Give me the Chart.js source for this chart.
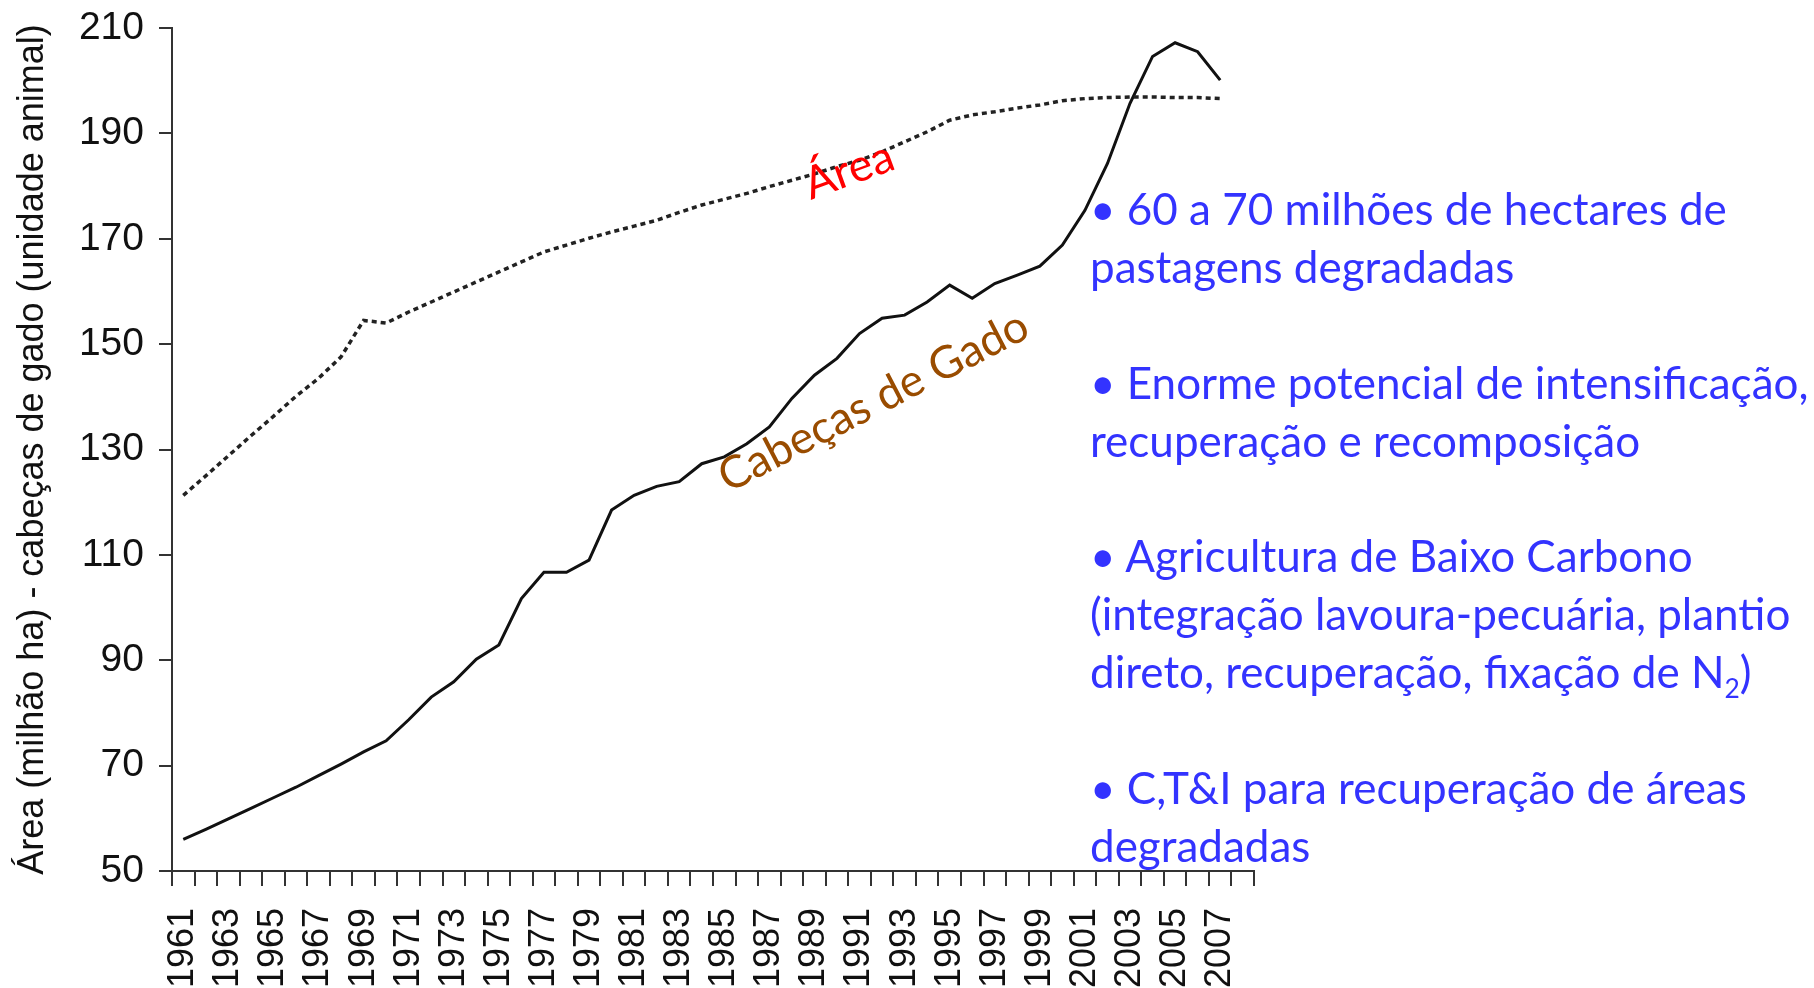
<!DOCTYPE html>
<html lang="pt">
<head>
<meta charset="UTF-8">
<title>Área e cabeças de gado</title>
<script src="https://cdn.jsdelivr.net/npm/chart.js@4/dist/chart.umd.min.js"></script>
<style>
  html, body { margin: 0; padding: 0; background: #fff; }
  #wrap { position: relative; width: 1814px; height: 988px; }
  #notes {
    position: absolute; left: 1090px; top: 180px;
    font-family: Lato, sans-serif; font-size: 44px; line-height: 57.9px;
    color: rgb(51,51,255); white-space: nowrap;
  }
  #notes p { margin: 0 0 57.9px 0; }
  #notes sub { font-size: 60%; line-height: 0; }
</style>
</head>
<body>
<div id="wrap">
  <canvas id="chart"></canvas>
  <div id="notes">
    <p>• 60 a 70 milhões de hectares de<br>pastagens degradadas</p>
    <p>• Enorme potencial de intensificação,<br>recuperação e recomposição</p>
    <p>• Agricultura de Baixo Carbono<br>(integração lavoura-pecuária, plantio<br>direto, recuperação, fixação de N<sub>2</sub>)</p>
    <p>• C,T&amp;I para recuperação de áreas<br>degradadas</p>
  </div>
</div>

<script>
// categories (2008 is an empty slot at the end of the axis)
const years = [1961,1962,1963,1964,1965,1966,1967,1968,1969,1970,
               1971,1972,1973,1974,1975,1976,1977,1978,1979,1980,
               1981,1982,1983,1984,1985,1986,1987,1988,1989,1990,
               1991,1992,1993,1994,1995,1996,1997,1998,1999,2000,
               2001,2002,2003,2004,2005,2006,2007,2008];
const labelledYears = [1961,1963,1965,1967,1969,1971,1973,1975,1977,1979,1981,1983,
                       1985,1987,1989,1991,1993,1995,1997,1999,2001,2003,2005,2007];
const yTicks = [50,70,90,110,130,150,170,190,210];

// pasture area (million ha), 1961-2007
const area = [121.3,125.0,128.8,132.6,136.3,140.1,143.5,147.6,154.5,154.0,
              156.1,158.0,159.9,161.8,163.7,165.6,167.5,168.8,170.1,171.3,
              172.4,173.5,175.0,176.4,177.5,178.6,179.9,181.1,182.3,183.7,
              184.9,186.5,188.4,190.3,192.5,193.5,194.1,194.8,195.4,196.2,
              196.6,196.8,196.9,196.9,196.8,196.8,196.6];

// cattle heads (animal units), 1961-2007
const cattle = [56.0,57.9,59.9,61.9,63.9,65.9,68.1,70.3,72.6,74.7,
                78.7,83.0,85.9,90.2,92.9,101.7,106.7,106.7,109.0,118.5,
                121.3,123.0,123.9,127.3,128.6,131.1,134.3,139.7,144.1,147.3,
                152.0,154.9,155.5,158.0,161.2,158.7,161.5,163.1,164.8,168.8,
                175.4,184.3,195.7,204.6,207.2,205.5,200.1];

const seriesLabels = {
  id: 'seriesLabels',
  afterDatasetsDraw(chart) {
    const { ctx, scales: { x, y } } = chart;
    function put(text, px, py, deg, color, size) {
      ctx.save();
      ctx.translate(px, py);
      ctx.rotate(deg * Math.PI / 180);
      ctx.font = size + 'px Lato';
      ctx.fillStyle = color;
      ctx.textAlign = 'center';
      ctx.textBaseline = 'middle';
      ctx.fillText(text, 0, 0);
      ctx.restore();
    }
    const iA = years.indexOf(1990);
    put('Área', x.getPixelForValue(iA) + 12, y.getPixelForValue(area[iA]) + 4, -20, '#ff0000', 45);
    const iC = years.indexOf(1991);
    put('Cabeças de Gado', x.getPixelForValue(iC) + 14, y.getPixelForValue(cattle[iC]) + 68, -27.4, '#994c00', 45);
  }
};

new Chart(document.getElementById('chart'), {
  type: 'line',
  data: {
    labels: years,
    datasets: [
      {
        label: 'Área',
        data: area,
        borderColor: '#222',
        borderWidth: 3.5,
        borderDash: [5, 4],
        pointRadius: 0,
        tension: 0,
        fill: false
      },
      {
        label: 'Cabeças de Gado',
        data: cattle,
        borderColor: '#111',
        borderWidth: 3,
        pointRadius: 0,
        tension: 0,
        fill: false
      }
    ]
  },
  options: {
    responsive: true,
    maintainAspectRatio: false,
    animation: false,
    layout: { padding: { top: 28, right: 560, left: 0, bottom: 0 } },
    plugins: { legend: { display: false }, tooltip: { enabled: false } },
    scales: {
      x: {
        type: 'category',
        offset: true,
        afterFit(s) { s.height = 117; },
        grid: { offset: true, drawOnChartArea: false, drawTicks: true, tickLength: 15, color: '#333', lineWidth: 2 },
        border: { color: '#333', width: 2 },
        ticks: {
          autoSkip: false, maxRotation: 90, minRotation: 90, padding: 22,
          color: '#111', font: { family: 'Liberation Sans', size: 36 },
          callback(v, i) { return labelledYears.includes(years[i]) ? String(years[i]) : ''; }
        }
      },
      y: {
        min: 50, max: 210,
        afterFit(s) { s.width = 172; },
        afterBuildTicks(s) { s.ticks = yTicks.map(v => ({ value: v })); },
        grid: { drawOnChartArea: false, drawTicks: true, tickLength: 13, color: '#333', lineWidth: 2 },
        border: { color: '#333', width: 2 },
        ticks: { padding: 15, color: '#111', font: { family: 'Liberation Sans', size: 39, lineHeight: 0.5 } },
        title: {
          display: true,
          text: 'Área (milhão ha) - cabeças de gado (unidade animal)',
          color: '#111',
          font: { family: 'Liberation Sans', size: 36 },
          padding: { top: 11, bottom: 0 }
        }
      }
    }
  },
  plugins: [seriesLabels]
});
</script>
</body>
</html>
